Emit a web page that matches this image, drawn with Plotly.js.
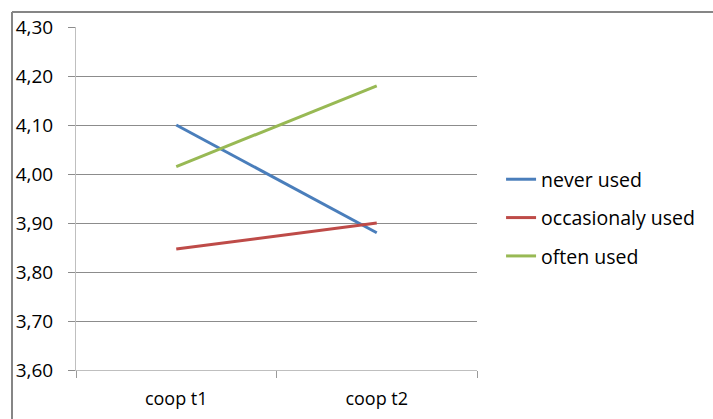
<!DOCTYPE html>
<html>
<head>
<meta charset="utf-8">
<script src="https://cdn.plot.ly/plotly-3.0.1.min.js"></script>
<style>html,body{margin:0;padding:0;background:#fff;}#chart{width:713px;height:419px;}</style>
</head>
<body>
<div id="chart"></div>
<script>
const categories = ["coop t1", "coop t2"];
const seriesNames = ["never used", "occasionaly used", "often used"];
const neverUsed = [4.10, 3.88];
const occasionalyUsed = [3.847, 3.90];
const oftenUsed = [4.015, 4.18];
const seriesValues = [neverUsed, occasionalyUsed, oftenUsed];
const colors = ["#4A7EBB", "#BE4B48", "#98B954"];

const FONT = "Open Sans, Liberation Sans, sans-serif";

const traces = seriesValues.map((vals, i) => ({
  type: "scatter",
  mode: "lines",
  x: categories,
  y: vals,
  name: seriesNames[i],
  legendgroup: "g" + i,
  line: {color: colors[i], width: 3},
  hoverinfo: "none"
}));

const layout = {
  width: 713,
  height: 419,
  margin: {l: 76, r: 236, t: 27, b: 49, pad: 0},
  paper_bgcolor: "#ffffff",
  plot_bgcolor: "#ffffff",
  separators: ",.",
  font: {family: FONT, size: 19, color: "#000000"},
  showlegend: true,
  legend: {
    x: 1.06, xanchor: "left",
    y: 0.443, yanchor: "middle",
    tracegroupgap: 10,
    font: {family: FONT, size: 19.5, color: "#000000"},
    bgcolor: "rgba(0,0,0,0)"
  },
  xaxis: {
    type: "category",
    range: [-0.5, 1.5],
    showgrid: false,
    zeroline: false,
    showline: true,
    linecolor: "#BFBFBF",
    linewidth: 1,
    ticks: "outside",
    tickson: "boundaries",
    ticklen: 7,
    tickcolor: "#9A9A9A",
    ticklabelstandoff: 12,
    tickfont: {family: FONT, size: 18, color: "#000000"},
    fixedrange: true
  },
  yaxis: {
    range: [3.6, 4.3],
    dtick: 0.1,
    tick0: 3.6,
    tickformat: ".2f",
    showgrid: true,
    gridcolor: "#8C8C8C",
    gridwidth: 1,
    zeroline: false,
    showline: true,
    linecolor: "#BFBFBF",
    linewidth: 1,
    ticks: "outside",
    ticklen: 7,
    tickcolor: "#8C8C8C",
    ticklabelstandoff: 11,
    tickfont: {family: FONT, size: 19, color: "#000000"},
    fixedrange: true
  },
  shapes: [
    {type: "line", xref: "paper", yref: "paper", x0: -0.1596, x1: 1.6, y0: 1.0437, y1: 1.0437,
     line: {color: "#868686", width: 2}},
    {type: "line", xref: "paper", yref: "paper", x0: -0.1596, x1: -0.1596, y0: -0.2, y1: 1.0437,
     line: {color: "#868686", width: 2}}
  ]
};

Plotly.newPlot("chart", traces, layout, {displayModeBar: false, staticPlot: true});
</script>
</body>
</html>
